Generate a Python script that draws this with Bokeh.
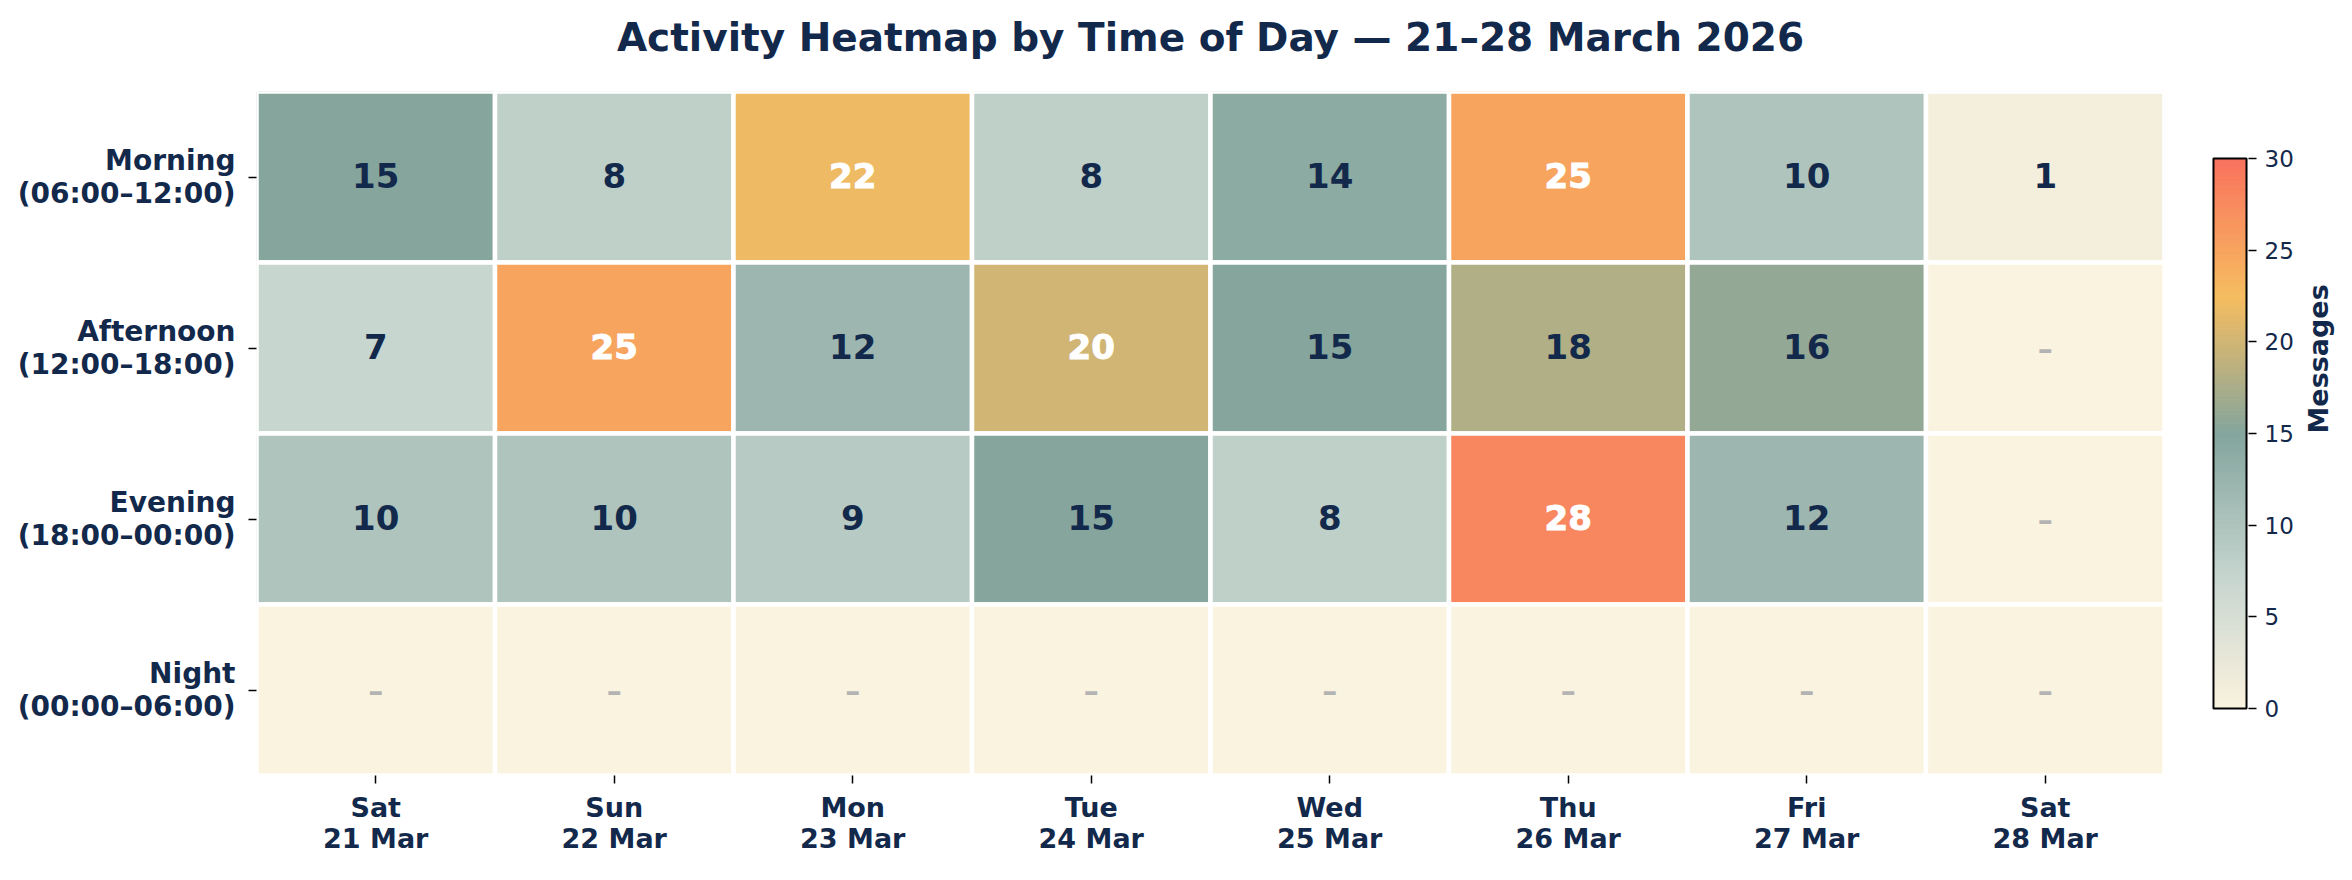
import math
from bokeh.plotting import figure
from bokeh.layouts import row
from bokeh.models import (ColumnDataSource, LinearColorMapper, Range1d, FixedTicker,
                          LinearAxis, Title)
from bokeh.embed import file_html
from bokeh.resources import INLINE
from bokeh.core.properties import value

# ---------------- data ----------------
days = ["Sat\n21 Mar", "Sun\n22 Mar", "Mon\n23 Mar", "Tue\n24 Mar",
        "Wed\n25 Mar", "Thu\n26 Mar", "Fri\n27 Mar", "Sat\n28 Mar"]
periods = ["Morning\n(06:00–12:00)", "Afternoon\n(12:00–18:00)",
           "Evening\n(18:00–00:00)", "Night\n(00:00–06:00)"]
morning = [15, 8, 22, 8, 14, 25, 10, 1]
afternoon = [7, 25, 12, 20, 15, 18, 16, 0]
evening = [10, 10, 9, 15, 8, 28, 12, 0]
night = [0, 0, 0, 0, 0, 0, 0, 0]
cbar_ticks = [0, 5, 10, 15, 20, 25, 30]
vmin, vmax = 0, 30
title_text = "Activity Heatmap by Time of Day — 21–28 March 2026"

# ---------------- styles ----------------
NAVY = "#13294B"
FONT = "DejaVu Sans"
stops = [(0, "#F9F3DF"), (1, "#F4EEDC"), (7, "#C8D6D0"), (15, "#84A59D"),
         (22.5, "#F6BD60"), (30, "#F9725E")]
NCOL = 256
FRAME_W, FRAME_H = 1908, 684
TOP, BOTTOM = 91, 95
BAR_H = 550


def h2r(h):
    return tuple(int(h[i:i + 2], 16) for i in (1, 3, 5))


palette = []
for i in range(NCOL):
    v = (i + 0.5) / NCOL * 30
    for (a, ca), (b, cb) in zip(stops[:-1], stops[1:]):
        if a <= v <= b:
            t = (v - a) / (b - a)
            r0, g0, b0 = h2r(ca)
            r1, g1, b1 = h2r(cb)
            palette.append("#%02x%02x%02x" % (round(r0 + t * (r1 - r0)),
                                              round(g0 + t * (g1 - g0)),
                                              round(b0 + t * (b1 - b0))))
            break
mapper = LinearColorMapper(palette=palette, low=vmin, high=vmax)

# ---------------- sources (category index -> position on a linear scale) ----------------
nrow = len(periods)
cell = dict(xi=[], yi=[], val=[])
dark = dict(xi=[], yi=[], txt=[])
light = dict(xi=[], yi=[], txt=[])
miss = dict(xi=[], yi=[], txt=[])
for j, series in enumerate([morning, afternoon, evening, night]):
    for i, v in enumerate(series):
        yi = nrow - 1 - j
        cell["xi"].append(i)
        cell["yi"].append(yi)
        cell["val"].append(v)
        tgt = miss if v == 0 else (light if v >= 20 else dark)
        tgt["xi"].append(i)
        tgt["yi"].append(yi)
        tgt["txt"].append("–" if v == 0 else str(v))

# ---------------- main heatmap ----------------
p = figure(x_range=Range1d(-0.5, len(days) - 0.5), y_range=Range1d(-0.5, nrow - 0.5),
           frame_width=FRAME_W, frame_height=FRAME_H, title=None,
           min_border_left=256, min_border_top=TOP, min_border_bottom=BOTTOM, min_border_right=47,
           output_backend="svg", toolbar_location=None)

p.rect(x="xi", y="yi", width=1, height=1, source=ColumnDataSource(cell),
       fill_color={"field": "val", "transform": mapper},
       line_color="white", line_width=4.5)

common = dict(x="xi", y="yi", text="txt", text_align="center", text_baseline="middle",
              text_font=value(FONT))
p.text(source=ColumnDataSource(dark), text_color=NAVY, text_font_style="bold",
       text_font_size="34px", y_offset=-2, **common)
p.text(source=ColumnDataSource(light), text_color="white", text_font_style="bold",
       text_font_size="34px", text_outline_color="white", y_offset=-2, **common)
p.text(source=ColumnDataSource(miss), text_color="#B3B3B3", text_font_style="bold",
       text_font_size="30px", **common)

# axes with category labels
xa, yax = p.xaxis[0], p.yaxis[0]
xa.ticker = FixedTicker(ticks=list(range(len(days))))
xa.major_label_overrides = {i: d for i, d in enumerate(days)}
yax.ticker = FixedTicker(ticks=list(range(nrow)))
yax.major_label_overrides = {nrow - 1 - j: s for j, s in enumerate(periods)}

# invisible spacer axis between the frame and the title (pushes the title up)
spacer = LinearAxis(ticker=FixedTicker(ticks=[0]),
                    axis_line_color=None, major_tick_line_color=None,
                    minor_tick_line_color=None, major_tick_out=27, major_tick_in=0,
                    minor_tick_out=0, major_label_standoff=0,
                    major_label_overrides={0: ""}, major_label_text_font_size="1px")
p.add_layout(spacer, "above")
p.add_layout(Title(text=title_text, align="center", standoff=10,
                   text_font=FONT, text_font_size="39px", text_font_style="bold",
                   text_color=NAVY), "above")

for ax in (xa, yax):
    ax.axis_line_color = None
    ax.major_tick_line_color = "black"
    ax.major_tick_line_width = 1.5
    ax.major_tick_out = 8
    ax.major_tick_in = 0
    ax.minor_tick_line_color = None
    ax.major_label_text_font = FONT
    ax.major_label_text_font_style = "bold"
    ax.major_label_text_color = NAVY
    ax.major_label_text_line_height = 1.0
xa.major_label_text_font_size = "27px"
yax.major_label_text_font_size = "28px"
xa.major_label_standoff = 8
yax.major_label_standoff = 13
p.grid.visible = False
p.outline_line_color = None

# ---------------- colour bar (own small figure, same frame height) ----------------
pad = (FRAME_H - BAR_H) / 2 / BAR_H * (vmax - vmin)
cbf = figure(frame_width=37, frame_height=FRAME_H,
             x_range=Range1d(-0.06, 1.06), y_range=Range1d(vmin - pad, vmax + pad),
             min_border_left=0, min_border_right=60, min_border_top=TOP, min_border_bottom=BOTTOM,
             x_axis_location=None, y_axis_location="right",
             output_backend="svg", toolbar_location=None)
step = (vmax - vmin) / NCOL
cbf.quad(left=0, right=1, bottom=[vmin + i * step for i in range(NCOL)],
         top=[vmin + (i + 1) * step for i in range(NCOL)],
         fill_color=palette, line_color=palette, line_width=1)
cbf.quad(left=0, right=1, bottom=vmin, top=vmax, fill_color=None,
         line_color="black", line_width=2)
cbf.grid.visible = False
cbf.outline_line_color = None
ya = cbf.yaxis[0]
ya.ticker = FixedTicker(ticks=cbar_ticks)
ya.axis_line_color = None
ya.major_tick_line_color = "black"
ya.major_tick_line_width = 1.5
ya.major_tick_out = 8
ya.major_tick_in = 0
ya.minor_tick_line_color = None
ya.major_label_text_font = FONT
ya.major_label_text_font_size = "23px"
ya.major_label_text_color = NAVY
ya.major_label_standoff = 8
ya.axis_label = "Messages"
ya.axis_label_text_font = FONT
ya.axis_label_text_font_size = "27px"
ya.axis_label_text_font_style = "bold"
ya.axis_label_text_color = NAVY
ya.axis_label_standoff = 22
try:
    ya.axis_label_orientation = math.pi / 2
except Exception:
    pass

layout = row(p, cbf)
open("out.html", "w").write(file_html(layout, INLINE))
